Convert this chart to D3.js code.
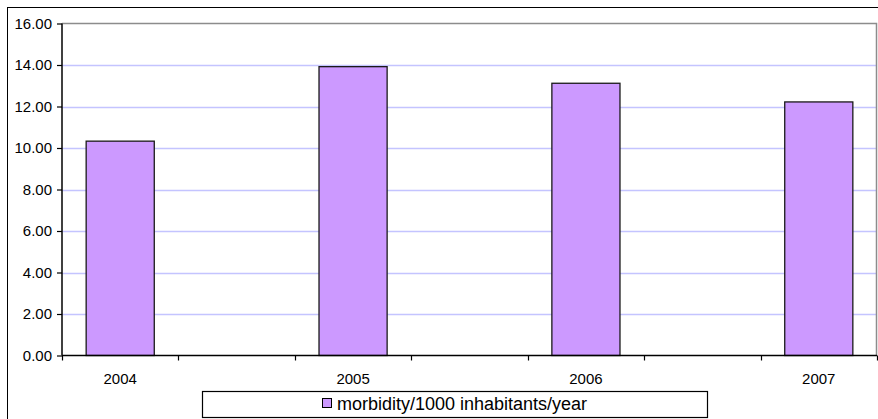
<!DOCTYPE html>
<html>
<head>
<meta charset="utf-8">
<script src="https://cdn.jsdelivr.net/npm/d3@7"></script>
<style>
  html, body { margin: 0; padding: 0; background: #fff; }
  svg { display: block; font-family: Arial, "Liberation Sans", sans-serif; }
</style>
</head>
<body>
<svg id="chart" width="878" height="419"></svg>
<script>
// Data
const categories = ["2004", "", "2005", "", "2006", "", "2007"];
const values = [10.33, null, 13.92, null, 13.12, null, 12.22];
const yTicks = [0, 2, 4, 6, 8, 10, 12, 14, 16];
const seriesName = "morbidity/1000 inhabitants/year";

const svg = d3.select("#chart");
const W = 878, H = 419;
const plot = { left: 62, right: 877, top: 23.5, bottom: 355.5 };

// outer chart border
svg.append("rect")
  .attr("x", 7.5).attr("y", 7.5)
  .attr("width", W + 10).attr("height", H + 10)
  .attr("fill", "#fff").attr("stroke", "#000").attr("stroke-width", 1);

const x = d3.scaleBand()
  .domain(d3.range(categories.length))
  .range([plot.left, plot.right])
  .padding(0);

const y = d3.scaleLinear().domain([0, 16]).range([plot.bottom, plot.top]);

// gridlines
svg.append("g").selectAll("line")
  .data(yTicks.filter(d => d > 0 && d < 16))
  .join("line")
  .attr("x1", plot.left).attr("x2", plot.right)
  .attr("y1", d => Math.round(y(d)) + 0.5).attr("y2", d => Math.round(y(d)) + 0.5)
  .attr("stroke", "#c4c4ff").attr("stroke-width", 1.3);

// plot area border (top & right, gray)
svg.append("path")
  .attr("d", `M${plot.left},${plot.top}H${plot.right - 0.5}V${plot.bottom}`)
  .attr("fill", "none").attr("stroke", "#8c8c8c").attr("stroke-width", 1.5);

// bars
const barFrac = 0.585;
const bw = x.bandwidth() * barFrac;
svg.append("g").selectAll("rect")
  .data(values.map((v, i) => ({ v, i })).filter(d => d.v != null))
  .join("rect")
  .attr("x", d => x(d.i) + (x.bandwidth() - bw) / 2)
  .attr("y", d => y(d.v))
  .attr("width", bw)
  .attr("height", d => y(0) - y(d.v))
  .attr("fill", "#cc99ff")
  .attr("stroke", "#1a1a1a").attr("stroke-width", 1.3);

// y axis
const yAxis = d3.axisLeft(y).tickValues(yTicks).tickFormat(d3.format(".2f")).tickSize(5).tickPadding(5);
const gy = svg.append("g").attr("transform", `translate(${plot.left},0)`).call(yAxis);
gy.select(".domain").attr("stroke", "#000").attr("stroke-width", 1.5).attr("d", `M0,${plot.top}V${plot.bottom}`);
gy.selectAll(".tick line").attr("stroke", "#000").attr("stroke-width", 1.2);
gy.selectAll(".tick text").attr("font-size", 15).attr("fill", "#000")
  .attr("font-family", "Arial, 'Liberation Sans', sans-serif");

// x axis: ticks at band boundaries
const xAxisG = svg.append("g");
xAxisG.append("line")
  .attr("x1", plot.left).attr("x2", plot.right)
  .attr("y1", plot.bottom).attr("y2", plot.bottom)
  .attr("stroke", "#000").attr("stroke-width", 1.5);
const boundaries = d3.range(categories.length + 1).map(i => i < categories.length ? x(i) : x(i - 1) + x.bandwidth());
xAxisG.selectAll("line.tk").data(boundaries).join("line")
  .attr("class", "tk")
  .attr("x1", d => Math.round(d) + 0.5).attr("x2", d => Math.round(d) + 0.5)
  .attr("y1", plot.bottom).attr("y2", plot.bottom + 5)
  .attr("stroke", "#000").attr("stroke-width", 1.2);
xAxisG.selectAll("text").data(categories.map((c, i) => ({ c, i })).filter(d => d.c !== ""))
  .join("text")
  .attr("x", d => x(d.i) + x.bandwidth() / 2)
  .attr("y", 384)
  .attr("text-anchor", "middle")
  .attr("font-size", 15)
  .text(d => d.c);

// legend
const lg = svg.append("g");
lg.append("rect")
  .attr("x", 202.5).attr("y", 391.5).attr("width", 505).attr("height", 26)
  .attr("fill", "#fff").attr("stroke", "#000").attr("stroke-width", 1.2);
const lt = lg.append("text")
  .attr("y", 410).attr("font-size", 18)
  .text(seriesName);
const tw = lt.node().getComputedTextLength();
const sw = 9, gap = 6;
const totalW = sw + gap + tw;
const startX = 202 + 505 / 2 - totalW / 2;
lg.append("rect")
  .attr("x", Math.round(startX) + 0.5).attr("y", 398.5).attr("width", sw).attr("height", sw)
  .attr("fill", "#cc99ff").attr("stroke", "#000").attr("stroke-width", 1);
lt.attr("x", startX + sw + gap);
</script>
</body>
</html>
